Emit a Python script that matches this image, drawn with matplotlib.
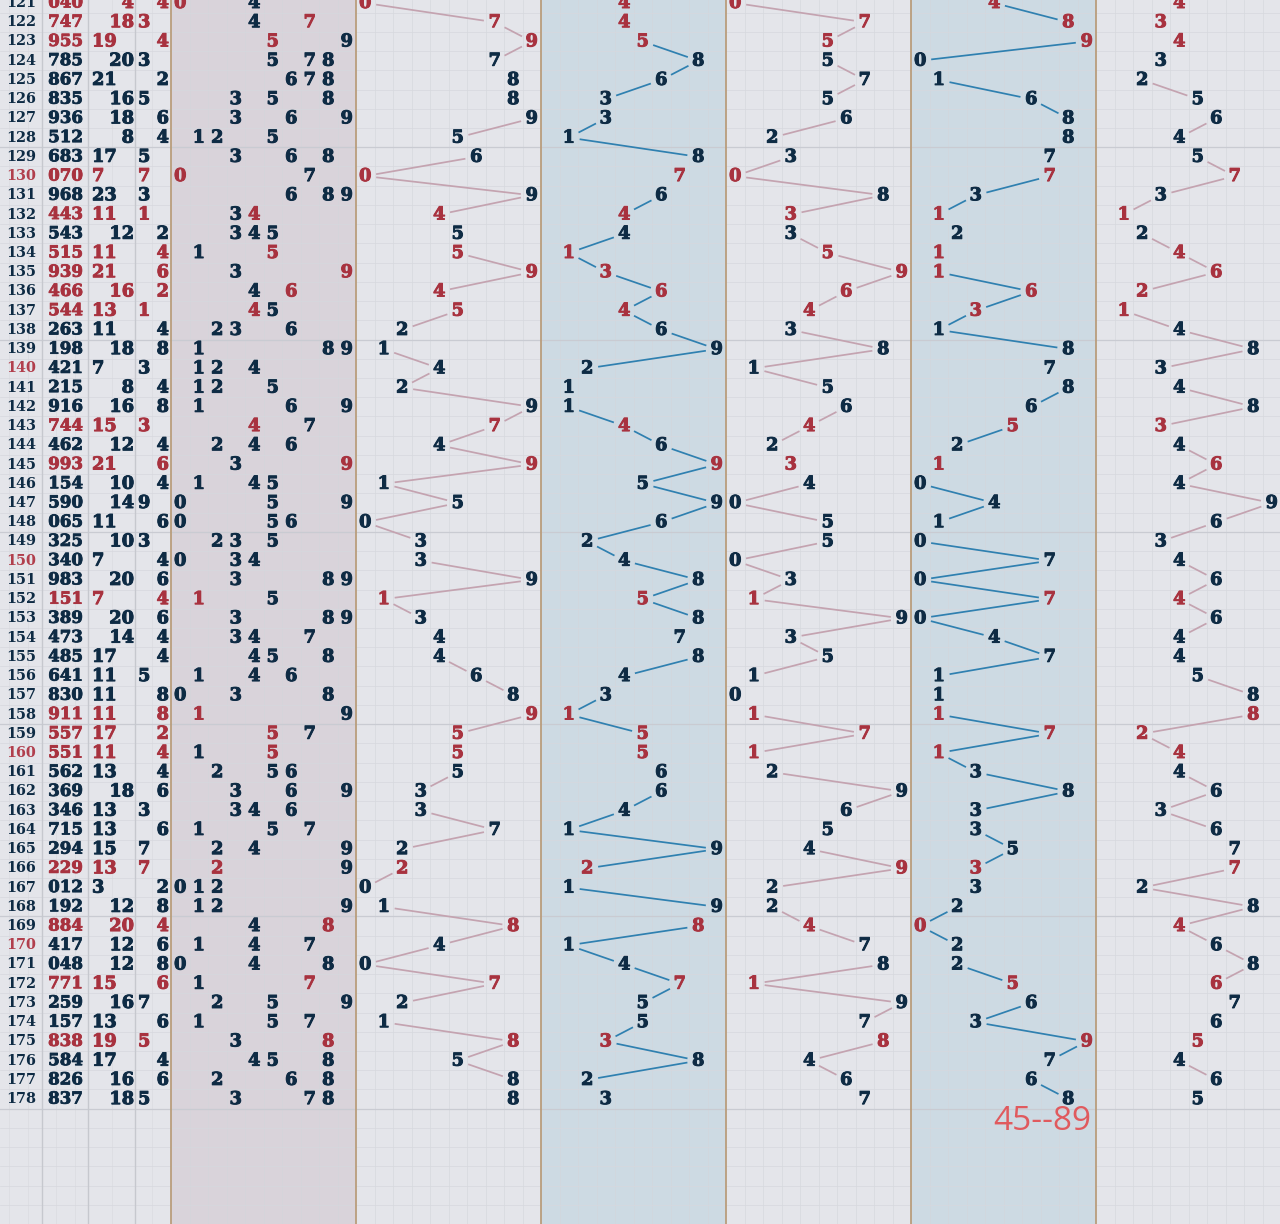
import matplotlib
matplotlib.use('Agg')
import matplotlib.pyplot as plt
import matplotlib.patheffects as pe
import numpy as np

# ---------------- data ----------------
issues = [121, 122, 123, 124, 125, 126, 127, 128, 129, 130,
          131, 132, 133, 134, 135, 136, 137, 138, 139, 140,
          141, 142, 143, 144, 145, 146, 147, 148, 149, 150,
          151, 152, 153, 154, 155, 156, 157, 158, 159, 160,
          161, 162, 163, 164, 165, 166, 167, 168, 169, 170,
          171, 172, 173, 174, 175, 176, 177, 178]
draws = ["040", "747", "955", "785", "867", "835", "936", "512", "683", "070",
         "968", "443", "543", "515", "939", "466", "544", "263", "198", "421",
         "215", "916", "744", "462", "993", "154", "590", "065", "325", "340",
         "983", "151", "389", "473", "485", "641", "830", "911", "557", "551",
         "562", "369", "346", "715", "294", "229", "012", "192", "884", "417",
         "048", "771", "259", "157", "838", "584", "826", "837"]
label_text = "45--89"

# derived columns
digits = [[int(c) for c in d] for d in draws]
sums = [sum(d) for d in digits]
spans = [max(d) - min(d) for d in digits]
is_pair = [len(set(d)) < 3 for d in digits]
hundreds = [d[0] for d in digits]
tens = [d[1] for d in digits]
units = [d[2] for d in digits]
sum_tail = [s % 10 for s in sums]

# ---------------- style ----------------
W, H = 1280, 1224
ROW_H = 19.23
Y0 = 3.0
CELL = 18.5
PX0 = 171
PW = CELL * 10

NAVY = "#0e2b44"
RED = "#a8323f"
RED_ISSUE = "#b13f4d"
BG = "#e4e5ea"
BG_DIST = "#d9d3da"
BG_BLUE = "#cddae3"
SEP = "#b99d7c"
LINE_PINK = "#c4a3b0"
LINE_BLUE = "#2f80b0"

fig = plt.figure(figsize=(W / 100, H / 100), dpi=100)
fig.patch.set_facecolor(BG)
ax = fig.add_axes([0, 0, 1, 1])
ax.set_facecolor(BG)
first = issues[0]
y_bottom = first + (H - Y0) / ROW_H
y_top = first - Y0 / ROW_H
ax.set_xlim(0, W)
ax.set_ylim(y_bottom, y_top)
ax.axis('off')

# panel backgrounds
panel_bgs = [BG_DIST, BG, BG_BLUE, BG, BG_BLUE, BG]
for k, c in enumerate(panel_bgs):
    ax.axvspan(PX0 + PW * k, PX0 + PW * (k + 1), color=c, zorder=0, lw=0)

# grid: vertical cell lines (faint)
for k in range(6):
    for i in range(1, 10):
        ax.axvline(PX0 + PW * k + CELL * i, color="#d3d5db", lw=0.5,
                   alpha=0.8, zorder=1)
for xg in [CELL * 0.5, CELL * 1.5, 56, 75, 112, 152]:
    ax.axvline(xg, color="#dadbe0", lw=0.5, zorder=1)
# horizontal row lines
rows_all = np.arange(first - 1, int(y_bottom) + 2)
for r in rows_all:
    strong = (r % 10 == 8)
    ax.axhline(r + 0.5, color="#c9cbd2" if strong else "#d6d8de",
               lw=0.9 if strong else 0.5, zorder=1)

# separators
for xs in [42, 88, 135]:
    ax.axvline(xs, color="#c6c8ce", lw=1.0, zorder=1.5)
for k in range(6):
    ax.axvline(PX0 + PW * k, color=SEP, lw=1.3, zorder=1.5)

FS = 12.8


def btext(x, y, s, color, ha="center", fs=FS, sw=0.7):
    t = ax.text(x, y, s, ha=ha, va="center", family="DejaVu Serif",
                fontweight="bold", fontsize=fs, color=color, zorder=4)
    t.set_path_effects([pe.withStroke(linewidth=sw, foreground=color)])
    return t


for i, iss in enumerate(issues):
    y = iss
    ax.text(21, y, str(iss), ha="center", va="center", family="DejaVu Serif",
            fontweight="bold", fontsize=10.4,
            color=RED_ISSUE if iss % 10 == 0 else NAVY, zorder=4)
    col = RED if is_pair[i] else NAVY
    btext(65.5, y, draws[i], col, fs=12.0, sw=0.6)
    s = sums[i]
    if s % 2:
        btext(92, y, str(s), col, ha="left")
    else:
        btext(134, y, str(s), col, ha="right")
    sp = spans[i]
    if sp % 2:
        btext(138, y, str(sp), col, ha="left")
    else:
        btext(169, y, str(sp), col, ha="right")
    # distribution
    for d in sorted(set(digits[i])):
        c = RED if digits[i].count(d) > 1 else NAVY
        btext(PX0 + CELL * (d + 0.5), y, str(d), c)

# positional panels with trend lines
panels = [(hundreds, 1, LINE_PINK), (tens, 2, LINE_BLUE), (units, 3, LINE_PINK),
          (sum_tail, 4, LINE_BLUE), (spans, 5, LINE_PINK)]
TRIM = 11.0
for vals, k, lc in panels:
    x0 = PX0 + PW * k
    xs = [x0 + CELL * (v + 0.5) for v in vals]
    for i in range(len(vals) - 1):
        if abs(vals[i + 1] - vals[i]) <= 1:
            continue
        xa, xb = xs[i], xs[i + 1]
        ya, yb = issues[i], issues[i + 1]
        dx = xb - xa
        dy = (yb - ya) * ROW_H
        L = np.hypot(dx, dy)
        f = TRIM / L
        ax.plot([xa + dx * f, xb - dx * f],
                [ya + (yb - ya) * f, yb - (yb - ya) * f],
                color=lc, lw=1.25, zorder=3, solid_capstyle="butt")
    for i, v in enumerate(vals):
        btext(xs[i], issues[i], str(v), RED if is_pair[i] else NAVY)

# bottom label
ax.text(1042, first + (1122 - Y0) / ROW_H, label_text, ha="center", va="center",
        family="Open Sans", fontweight="normal", fontsize=24, color="#e05a5e", zorder=4)

fig.savefig("out.png", dpi=100, facecolor=BG)
